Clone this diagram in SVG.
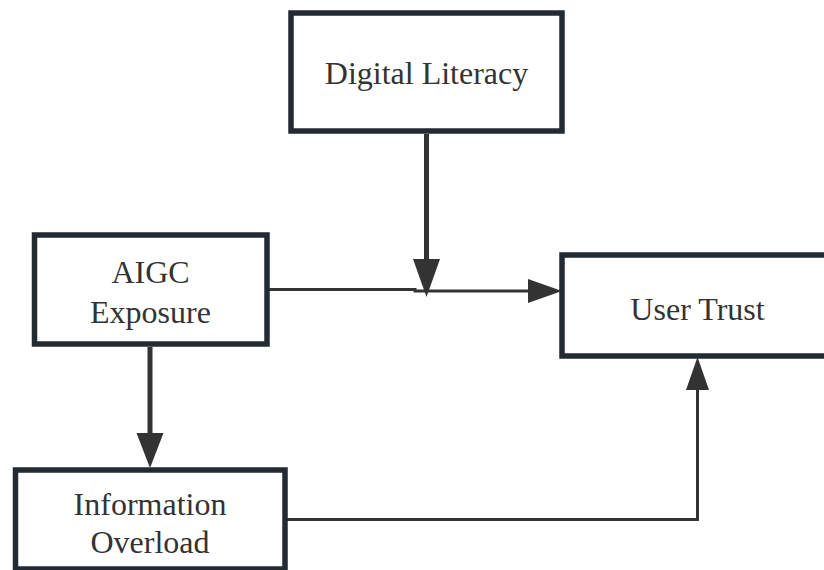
<svg xmlns="http://www.w3.org/2000/svg" width="824" height="570" viewBox="0 0 824 570">
<style>
.box{fill:#fff;stroke:#222a32;stroke-width:5.5}
.lbl{font-size:32px;fill:#333;text-anchor:middle}
.thick{fill:none;stroke:#333;stroke-width:5}
.thin{fill:none;stroke:#333;stroke-width:3}
.head{fill:#333}
</style>
<rect width="824" height="570" fill="#fff"/>
<g id="connectors">
<path class="thick" d="M426.5,134 V262"/>
<polygon class="head" points="413,259 440,259 426.5,297"/>
<path class="thin" d="M269,289.5 H415 V291 H530"/>
<polygon class="head" points="528,279 528,303 562,291"/>
<path class="thick" d="M150,347 V436"/>
<polygon class="head" points="136.5,433 163.5,433 150,468"/>
<path class="thin" d="M287,519.5 H697.5 V388"/>
<polygon class="head" points="686,390 709,390 697.5,357"/>
</g>
<g font-family="'Liberation Serif', 'Times New Roman', Times, serif">
<g id="digital-literacy">
<rect class="box" x="291" y="13" width="271" height="118"/>
<text class="lbl" x="426.5" y="84">Digital Literacy</text>
</g>
<g id="aigc-exposure">
<rect class="box" x="34.5" y="235" width="232.5" height="109"/>
<text class="lbl" x="150.5" y="283">AIGC</text>
<text class="lbl" x="150.5" y="323">Exposure</text>
</g>
<g id="user-trust">
<rect class="box" x="562" y="255" width="271" height="101"/>
<text class="lbl" x="697.5" y="320">User Trust</text>
</g>
<g id="information-overload">
<rect class="box" x="15.5" y="470" width="269.5" height="99"/>
<text class="lbl" x="150" y="515">Information</text>
<text class="lbl" x="150" y="553">Overload</text>
</g>
</g>
</svg>
